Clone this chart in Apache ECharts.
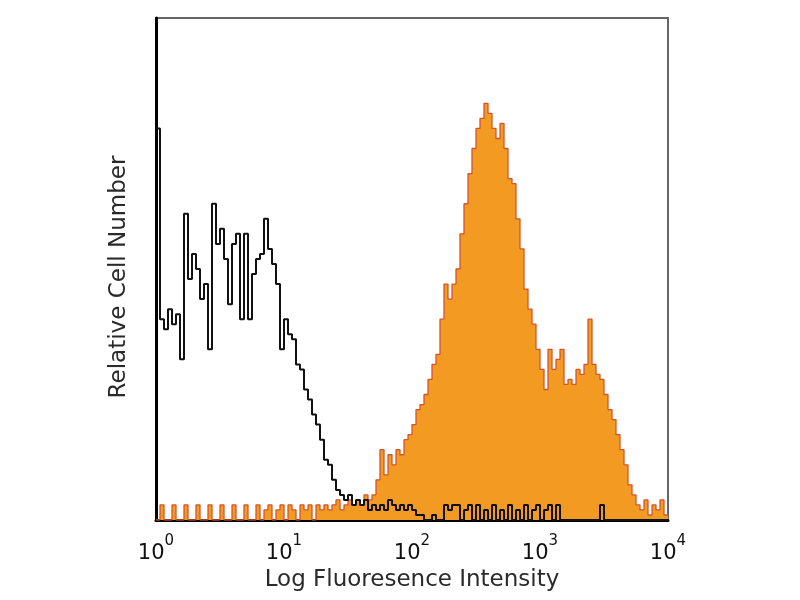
<!DOCTYPE html>
<html>
<head>
<meta charset="utf-8">
<script src="https://cdn.jsdelivr.net/npm/echarts@6/dist/echarts.min.js"></script>
<style>html,body{margin:0;padding:0;background:#fff}#c{width:800px;height:600px}</style>
</head>
<body>
<div id="c"></div>
<script>
// Histogram channels: 32 bins per decade over 10^0 .. 10^4 (128 bins)
const binsPerDecade = 32;
const xTickLabels = ['10^0', '10^1', '10^2', '10^3', '10^4'];
const xTitle = 'Log Fluoresence Intensity';
const yTitle = 'Relative Cell Number';

// Unstained / isotype control (black outline), relative counts 0..100
const controlCounts = [
  78, 40, 38, 42, 39, 41, 32, 61, 48, 53, 50, 44, 47, 34, 63, 55,
  58, 52, 43, 55, 57, 40, 57, 40, 49, 52, 53, 60, 54, 51, 47, 34,
  40, 37, 36, 31, 30, 26, 24, 21, 19, 16, 12, 11, 8, 6, 5, 4,
  5, 3, 4, 3, 4, 2, 3, 2, 3, 2, 4, 3, 2, 3, 2, 3,
  2, 1, 1, 0, 0, 1, 0, 0, 3, 2, 3, 3, 0, 2, 3, 0,
  3, 0, 2, 0, 3, 0, 2, 0, 3, 0, 2, 0, 3, 0, 2, 3,
  0, 2, 3, 0, 3, 0, 0, 0, 0, 0, 0, 0, 0, 0, 0, 3,
  0, 0, 0, 0, 0, 0, 0, 0, 0, 0, 0, 0, 0, 0, 0, 0
];

// Stained sample (orange filled), relative counts 0..100
const stainedCounts = [
  0, 3, 0, 0, 3, 0, 0, 3, 0, 0, 3, 0, 0, 3, 0, 0,
  3, 0, 0, 3, 0, 0, 3, 0, 0, 3, 0, 2, 3, 0, 2, 3,
  0, 3, 2, 0, 3, 2, 3, 0, 3, 2, 3, 2, 3, 4, 2, 3,
  4, 3, 4, 3, 5, 4, 5, 8, 14, 9, 13, 11, 14, 13, 16, 17,
  19, 22, 23, 25, 28, 31, 33, 40, 47, 44, 47, 50, 57, 63, 69, 74,
  78, 80, 83, 81, 78, 76, 79, 74, 68, 67, 60, 54, 46, 42, 39, 34,
  30, 26, 34, 30, 32, 34, 27, 28, 27, 30, 29, 31, 40, 31, 29, 28,
  25, 22, 20, 17, 14, 11, 7, 5, 3, 2, 4, 1, 3, 2, 4, 1
];

function toSteps(counts) {
  const pts = counts.map((c, i) => [Math.pow(10, i / binsPerDecade), c]);
  pts.push([Math.pow(10, counts.length / binsPerDecade), counts[counts.length - 1]]);
  return pts;
}

const chart = echarts.init(document.getElementById('c'), null, {renderer: 'canvas'});
chart.setOption({
  animation: false,
  backgroundColor: '#fff',
  grid: {left: 156, right: 132, top: 18, bottom: 80, show: true, borderColor: '#666', borderWidth: 2},
  xAxis: {
    type: 'log', logBase: 10, min: 1, max: 10000,
    axisLine: {show: true, lineStyle: {color: '#000', width: 3}},
    axisTick: {show: false},
    splitLine: {show: false},
    axisLabel: {
      margin: 14,
      formatter: function (v) {
        const e = Math.round(Math.log10(v));
        const parts = xTickLabels[e].split('^');
        return '{b|' + parts[0] + '}{s|' + parts[1] + '}';
      },
      rich: {
        b: {fontFamily: 'DejaVu Sans', fontSize: 21, color: '#111', lineHeight: 30, verticalAlign: 'bottom'},
        s: {fontFamily: 'DejaVu Sans', fontSize: 15, color: '#111', lineHeight: 30, verticalAlign: 'top'}
      }
    },
    name: xTitle, nameLocation: 'middle', nameGap: 47,
    nameTextStyle: {fontFamily: 'DejaVu Sans', fontSize: 23, color: '#2a2a2a'}
  },
  yAxis: {
    type: 'value', min: 0, max: 100,
    axisLine: {show: true, lineStyle: {color: '#000', width: 3}},
    axisTick: {show: false}, axisLabel: {show: false}, splitLine: {show: false},
    name: yTitle, nameLocation: 'middle', nameGap: 25, nameRotate: 90,
    nameTextStyle: {fontFamily: 'DejaVu Sans', fontSize: 23, color: '#2a2a2a', padding: [0, 16, 0, 0]}
  },
  series: [
    {
      type: 'line', step: 'end', symbol: 'none', data: toSteps(stainedCounts),
      lineStyle: {color: '#D4552A', width: 1.3},
      areaStyle: {color: '#F39A22', opacity: 1}, z: 2
    },
    {
      type: 'line', step: 'end', symbol: 'none', data: toSteps(controlCounts),
      lineStyle: {color: '#111', width: 2}, z: 3
    }
  ]
});
</script>
</body>
</html>
